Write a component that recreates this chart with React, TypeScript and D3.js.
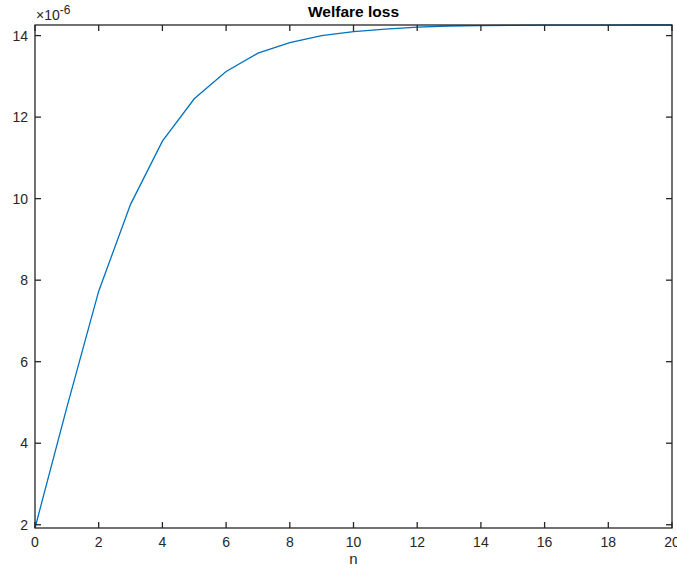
import React from "react";
import * as d3 from "d3";

const nValues = [0,1,2,3,4,5,6,7,8,9,10,11,12,13,14,15,16,17,18,19,20];
const lossValues = [1.92,4.88,7.73,9.86,11.41,12.45,13.12,13.57,13.83,14.0,14.1,14.16,14.21,14.235,14.247,14.253,14.256,14.258,14.259,14.26,14.26];
const xTicks = [0,2,4,6,8,10,12,14,16,18,20];
const yTicks = [2,4,6,8,10,12,14];
const titleText = "Welfare loss";
const xLabel = "n";

const W = 677, H = 569;
const L = 35, R = 672, T = 25, B = 528;
const axisColor = "#262626";
const font = "'Liberation Sans', Arial, Helvetica, sans-serif";

export default function App() {
  const x = d3.scaleLinear().domain([0, 20]).range([L, R]);
  const y = d3.scaleLinear().domain([1.92, 14.26]).range([B, T]);
  const line = d3.line<number>().x((_, i) => x(nValues[i])).y((d) => y(d));
  const tl = 6;
  return (
    <svg width={W} height={H} style={{ position: "absolute", left: 0, top: 0, background: "#fff" }} fontFamily={font}>
      <rect x={0} y={0} width={W} height={H} fill="#fff" />
      <path d={line(lossValues) || ""} fill="none" stroke="#0072BD" strokeWidth={1.3} />
      <rect x={L} y={T} width={R - L} height={B - T} fill="none" stroke={axisColor} strokeWidth={1.3} />
      {xTicks.map((t) => (
        <g key={"x" + t}>
          <line x1={x(t)} x2={x(t)} y1={B} y2={B - tl} stroke={axisColor} strokeWidth={1.3} />
          <line x1={x(t)} x2={x(t)} y1={T} y2={T + tl} stroke={axisColor} strokeWidth={1.3} />
          <text x={x(t)} y={546.5} textAnchor="middle" fontSize={14} fill={axisColor}>{t}</text>
        </g>
      ))}
      {yTicks.map((t) => (
        <g key={"y" + t}>
          <line x1={L} x2={L + tl} y1={y(t)} y2={y(t)} stroke={axisColor} strokeWidth={1.3} />
          <line x1={R} x2={R - tl} y1={y(t)} y2={y(t)} stroke={axisColor} strokeWidth={1.3} />
          <text x={28} y={y(t) + 5} textAnchor="end" fontSize={14} fill={axisColor}>{t}</text>
        </g>
      ))}
      <text x={36} y={20} fontSize={14} fill={axisColor}>
        ×10<tspan dy={-6} fontSize={12}>-6</tspan>
      </text>
      <text x={(L + R) / 2} y={17} textAnchor="middle" fontSize={15.5} fontWeight="bold" fill="#000">{titleText}</text>
      <text x={(L + R) / 2} y={564} textAnchor="middle" fontSize={15} fill={axisColor}>{xLabel}</text>
    </svg>
  );
}
